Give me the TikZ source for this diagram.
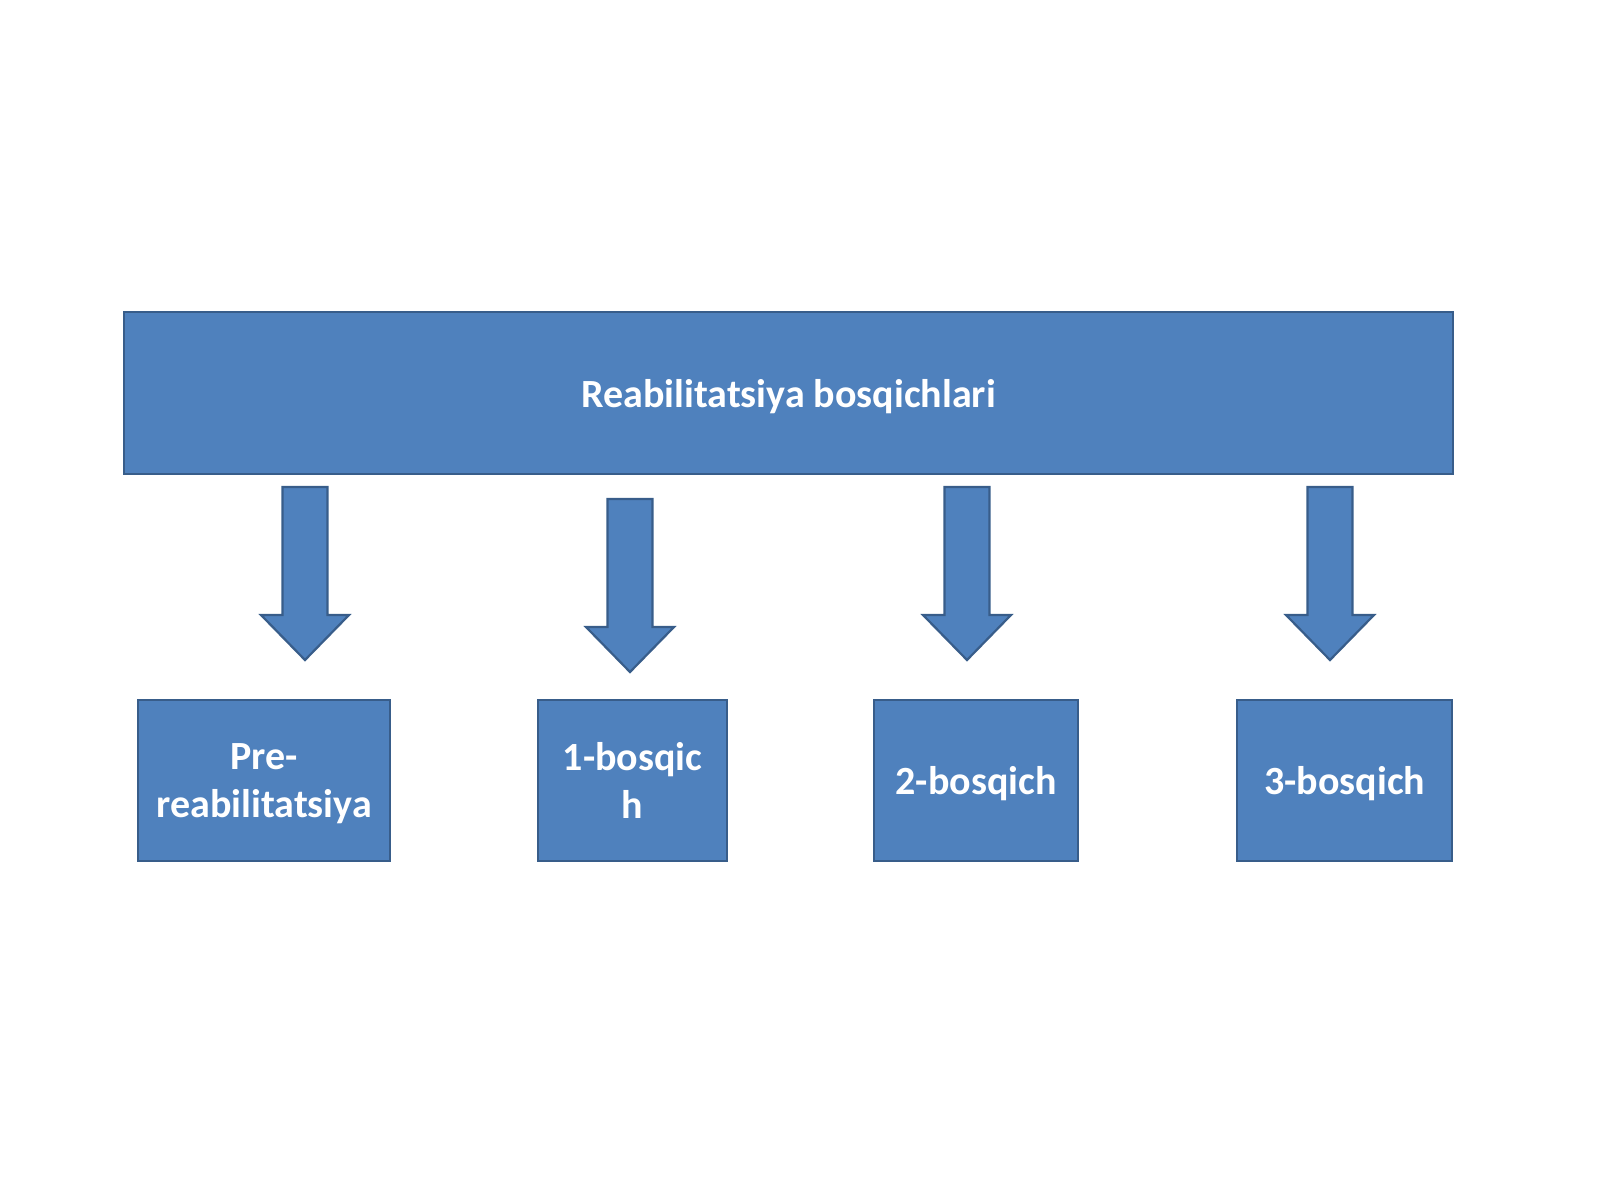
\documentclass[tikz,border=0pt]{standalone}
\usepackage{fontspec}
\setmainfont{Carlito}
\usepackage{tikz}
\definecolor{boxblue}{HTML}{4F81BD}
\definecolor{edgeblue}{HTML}{385D8A}
\tikzset{stagebox/.style={draw=edgeblue,line width=1pt,fill=boxblue,text=white,
  font=\bfseries\fontsize{18}{21.6}\selectfont,align=center,inner sep=0pt,
  text depth=0pt,minimum height=72.5pt,anchor=north west}}

\begin{document}
\begin{tikzpicture}[x=0.45pt,y=-0.45pt]
\useasboundingbox (0,0) rectangle (1600,1200);
\node[stagebox,minimum width=598pt,minimum height=73pt] (title) at (123,311) {Reabilitatsiya bosqichlari};
\foreach \x/\y in {305/487,630/499,967/487,1330/487} % edit here for the arrows
\draw[shift={(\x,\y)},draw=edgeblue,line width=1pt,fill=boxblue] (-22.5,0) -- (22.5,0) -- (22.5,128) -- (44,128) -- (0,173) -- (-44,128) -- (-22.5,128) -- cycle;
\node[stagebox,minimum width=113.4pt] (pre) at (137,699) {Pre-\\reabilitatsiya};
\node[stagebox,minimum width=85pt] (first) at (537,699) {1-bosqic\\h};
\node[stagebox,minimum width=91.8pt] (second) at (873,699) {2-bosqich};
\node[stagebox,minimum width=96.8pt] (third) at (1236,699) {3-bosqich};
\end{tikzpicture}
\end{document}
